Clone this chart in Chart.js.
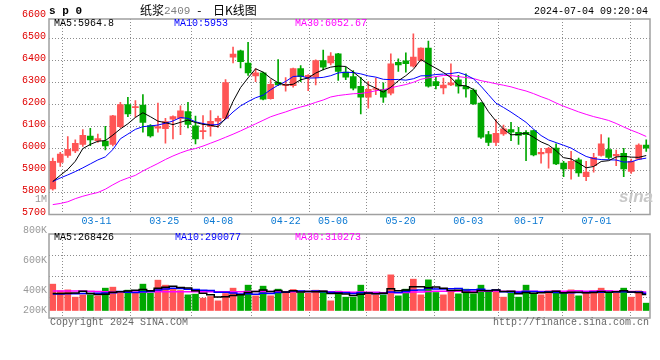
<!DOCTYPE html>
<html>
<head>
<meta charset="utf-8">
<script src="https://cdn.jsdelivr.net/npm/chart.js@4.4.1/dist/chart.umd.min.js"></script>
<style>
    body { margin: 0; background: #fff; }
    #wrap { position: relative; width: 660px; height: 360px; overflow: hidden; font-family: "Liberation Mono", monospace; font-size: 10px; }
    #wrap canvas { position: absolute; left: 0; }
    .t { position: absolute; white-space: nowrap; line-height: 12px; }
    .cjk { font-family: "Noto Sans CJK SC", sans-serif; font-size: 12px; }
    .vlab { position: absolute; left: 0; width: 47px; text-align: right; color: #999; line-height: 12px; }
</style>
</head>
<body>
<div id="wrap">
    <canvas id="kChart" width="660" height="232" style="top:0"></canvas>
    <canvas id="volChart" width="660" height="100" style="top:232px"></canvas>

    <div class="t" style="left:49px;top:5px;font-weight:bold;font-size:11px">s p 0</div>
    <div class="t cjk" style="left:140px;top:4px">纸浆</div>
    <div class="t" style="left:164px;top:5px;font-size:11px;color:#808080">2409</div>
    <div class="t" style="left:196px;top:5px;font-size:11px">-</div>
    <div class="t cjk" style="left:213px;top:4px">日K线图</div>
    <div class="t" style="left:534px;top:6px">2024-07-04 09:20:04</div>

    <div class="t" style="left:54px;top:18px;color:#000">MA5:5964.8</div>
    <div class="t" style="left:174px;top:18px;color:#0000ff">MA10:5953</div>
    <div class="t" style="left:295px;top:18px;color:#ff00ff">MA30:6052.67</div>
    <div class="vlab" style="top:194px">1M</div>
    <div class="t" style="left:619px;top:187px;font:italic bold 17px 'Liberation Sans',sans-serif;color:#c8c8c8">sina</div>

    <div class="t" style="left:54px;top:232px;color:#000">MA5:268426</div>
    <div class="t" style="left:175px;top:232px;color:#0000ff">MA10:290077</div>
    <div class="t" style="left:295px;top:232px;color:#ff00ff">MA30:310273</div>
    <div class="vlab" style="top:225px">800K</div>
    <div class="vlab" style="top:255px">600K</div>
    <div class="vlab" style="top:285px">400K</div>
    <div class="vlab" style="top:305px">200K</div>

    <div class="t" style="left:50px;top:317px;color:#666">Copyright 2024 SINA.COM</div>
    <div class="t" style="left:493px;top:317px;color:#666">http://finance.sina.com.cn</div>
</div>

<script>
// ==================== DATA ====================
const dates = ['03-07','03-08','03-11','03-12','03-13','03-14','03-15','03-18','03-19','03-20',
    '03-21','03-22','03-25','03-26','03-27','03-28','03-29','04-01','04-02','04-03',
    '04-08','04-09','04-10','04-11','04-12','04-15','04-16','04-17','04-18','04-19',
    '04-22','04-23','04-24','04-25','04-26','04-29','04-30','05-06','05-07','05-08',
    '05-09','05-10','05-13','05-14','05-15','05-16','05-17','05-20','05-21','05-22',
    '05-23','05-24','05-27','05-28','05-29','05-30','05-31','06-03','06-04','06-05',
    '06-06','06-07','06-11','06-12','06-13','06-14','06-17','06-18','06-19','06-20',
    '06-21','06-24','06-25','06-26','06-27','06-28','07-01','07-02','07-03','07-04'];

const openP = [5816,5937,5968,5989,6018,6056,6036,6034,6019,6099,
    6200,6186,6197,6104,6092,6090,6133,6137,6168,6103,
    6077,6099,6124,6137,6415,6444,6388,6330,6344,6227,
    6301,6286,6286,6363,6324,6324,6400,6389,6430,6347,
    6327,6282,6233,6268,6268,6251,6392,6398,6374,6400,
    6456,6304,6275,6289,6312,6283,6266,6206,6063,6028,
    6066,6086,6074,6074,6081,5975,5980,6002,5934,5907,
    5949,5872,5922,5968,5995,5966,5978,5896,5952,6016];
const closeP = [5942,5975,5996,6024,6060,6039,6045,6012,6148,6200,
    6157,6189,6119,6057,6100,6122,6145,6171,6109,6043,
    6081,6124,6137,6300,6429,6395,6344,6344,6224,6292,
    6289,6292,6363,6326,6333,6400,6370,6420,6350,6324,
    6274,6233,6269,6272,6233,6385,6380,6385,6415,6456,
    6283,6285,6288,6298,6283,6271,6203,6051,6028,6069,
    6089,6074,6059,6063,5971,5983,6001,5930,5907,5942,
    5889,5893,5960,6021,5960,5974,5907,5942,6016,6001];
const highP = [5957,5983,6054,6039,6086,6092,6066,6101,6151,6210,
    6233,6218,6245,6109,6206,6137,6148,6194,6210,6147,
    6150,6172,6147,6313,6461,6447,6483,6363,6347,6313,
    6404,6322,6366,6377,6336,6403,6447,6436,6433,6370,
    6354,6324,6304,6320,6298,6430,6407,6435,6521,6458,
    6488,6324,6320,6385,6332,6339,6271,6210,6078,6131,
    6107,6119,6096,6081,6084,6001,6005,6021,5942,5987,
    5957,5942,5978,6063,6048,5993,6001,5952,6021,6039];
const lowP = [5811,5919,5960,5981,6010,6013,6028,5993,6012,6093,
    6145,6142,6074,6051,6074,6024,6043,6063,6093,6021,
    6043,6056,6096,6134,6389,6366,6332,6304,6221,6224,
    6286,6260,6279,6304,6263,6289,6357,6380,6309,6313,
    6266,6157,6183,6245,6210,6244,6350,6347,6370,6397,
    6279,6271,6248,6286,6251,6233,6200,6046,6013,6013,
    6059,6036,6018,5945,5966,5933,5911,5927,5872,5861,
    5873,5854,5892,5965,5952,5922,5872,5887,5949,5987];

const ma5 = [5850,5878,5905,5942,5999.4,6018.8,6032.8,6036,6060.8,6088.8,
    6112.4,6141.2,6162.6,6144.4,6124.4,6117.4,6108.6,6119,6129.4,6118,
    6109.8,6105.6,6098.8,6137,6214.2,6277,6321,6362.4,6347.2,6319.8,
    6298.6,6288.2,6292,6312.4,6320.6,6342.8,6358.4,6369.8,6374.6,6372.8,
    6347.6,6320.2,6290,6274.4,6256.2,6278.4,6307.8,6331,6359.6,6404.2,
    6383.8,6364.8,6345.4,6322,6287.4,6285,6268.6,6221.2,6167.2,6124.4,
    6088,6062.2,6063.8,6070.8,6051.2,6030,6015.4,5989.6,5958.4,5952.6,
    5933.8,5912.2,5918.2,5941,5944.6,5961.6,5964.4,5960.8,5959.8,5968];
const ma10 = [5850,5866,5880,5895,5912,5930,5948,5962,5995,6044.1,
    6065.6,6087,6099.3,6102.6,6106.6,6114.9,6124.9,6140.8,6136.9,6121.2,
    6113.6,6107.1,6108.9,6133.2,6166.1,6193.4,6213.3,6230.6,6242.1,6267,
    6287.8,6304.6,6327.2,6329.8,6320.2,6320.7,6323.3,6330.9,6343.5,6346.7,
    6345.2,6339.3,6329.9,6324.5,6314.5,6313,6314,6310.5,6317,6330.2,
    6331.1,6336.3,6338.2,6340.8,6345.8,6334.4,6316.7,6283.3,6244.6,6205.9,
    6186.5,6165.4,6142.5,6119,6087.8,6059,6038.8,6026.7,6014.6,6001.9,
    5981.9,5963.8,5953.9,5949.7,5948.6,5947.7,5938.3,5939.5,5950.4,5956.3];
const ma30 = [5745,5750,5758,5772,5783,5792,5800,5815,5835,5853,
    5866,5878,5898,5915,5932,5950,5966,5980,5992,6000,
    6011,6024,6037,6051,6065,6080,6096,6112,6128,6144.1,
    6155.7,6166.2,6178.5,6188.5,6197.6,6209.7,6220.5,6234.1,6240.8,6245,
    6248.9,6250.3,6255.3,6262.5,6266.9,6275.7,6283.5,6290.7,6300.9,6314.6,
    6321.4,6326.7,6331.8,6331.7,6326.8,6322.7,6318,6308.2,6301.7,6294.3,
    6287.6,6280.3,6270.2,6261.4,6249.4,6235.5,6223.2,6206.8,6192.1,6179.3,
    6166.5,6155.2,6144.9,6136.5,6127.4,6113.7,6097.8,6083,6069.7,6054.6];

// volume in thousands of lots
const volK = [448,334,351,227,266,266,249,380,397,295,
    346,295,448,295,516,431,363,340,266,278,
    210,238,164,289,380,266,431,249,414,250,
    363,295,357,300,295,346,334,164,329,227,
    227,431,283,266,266,606,249,363,533,266,
    521,306,266,340,283,363,283,431,323,351,
    227,295,227,431,295,266,334,312,295,351,
    249,295,334,380,295,295,380,227,334,125];
const volMa5 = [290,290,295,298,325.2,288.8,271.8,277.6,311.6,317.4,
    333.4,342.6,356.2,335.8,380,397,410.6,389,383.2,335.6,
    291.4,266.4,231.2,235.8,256.2,267.4,306,323,348,322,
    341.4,314.2,335.8,313,322,318.6,326.4,287.8,293.6,280,
    256.2,275.6,299.4,286.8,294.6,370.4,334,350,403.4,403.4,
    386.4,397.8,378.4,339.8,343.2,311.6,307,340,336.6,350.2,
    323,325.4,284.6,306.2,295,302.8,310.6,327.6,300.4,311.6,
    308.2,300.4,304.8,321.8,310.6,319.8,336.8,315.4,306.2,272.2];
const volMa10 = [280,282,284,286,288,290,292,296,300,321.3,
    311.1,307.2,316.9,323.7,348.7,365.2,376.6,372.6,359.5,357.8,
    344.2,338.5,310.1,309.5,295.9,279.4,286.2,277.1,291.9,289.1,
    304.4,310.1,329.4,330.5,322,330,320.3,311.8,303.3,301,
    287.4,301,293.6,290.2,287.3,313.3,304.8,324.7,345.1,349,
    378.4,365.9,364.2,371.6,373.3,349,352.4,359.2,338.2,346.7,
    317.3,316.2,312.3,321.4,322.6,312.9,318,306.1,303.3,303.3,
    305.5,305.5,316.2,311.1,311.1,314,318.6,310.1,314,291.4];
const volMa30 = [330,330,330,330,330,326,322,318,316,315,
    315,315,316,317,318,319,320,320,320,320,
    320,320,320,320,320,320,321,322,322,322.7,
    319.9,318.6,318.8,321.2,322.2,324.9,327.7,320.5,318.2,316,
    312,316.5,311,310.1,301.7,307.6,303.8,304.5,313.4,313,
    323.4,325.7,329.1,330.8,327.5,330.8,325.8,331.9,328.9,332.2,
    327.7,327.7,323.4,327.7,327.7,325.1,325.1,330,328.9,333,
    333.7,329.2,330.9,334.7,335.7,325.3,329.7,325.1,318.5,313.8];

const priceTicks = [5700,5800,5900,6000,6100,6200,6300,6400,6500,6600];
const dateTicks = ['03-11','03-25','04-08','04-22','05-06','05-20','06-03','06-17','07-01'];

// ==================== STYLE ====================
const MONO = '"Liberation Mono", monospace';
const UP = '#ff5555', DOWN = '#00a800';
const GRID = '#8c8c8c', NONE = 'rgba(0,0,0,0)';
const candleColors = closeP.map((c, i) => c >= openP[i] ? UP : DOWN);
const dateTickIdx = dateTicks.map(d => dates.indexOf(d));

Chart.defaults.font.family = MONO;
Chart.defaults.font.size = 10;

// grey frame round the plot area
const framePlugin = {
    id: 'frame',
    afterDraw(chart) {
        const { ctx, chartArea: a } = chart;
        ctx.save();
        ctx.strokeStyle = '#a0a0a0';
        ctx.lineWidth = 1.5;
        ctx.strokeRect(a.left, a.top, a.right - a.left, a.bottom - a.top);
        ctx.restore();
    }
};

const fixWidth = w => s => { s.width = w; };
const fixHeight = h => s => { s.height = h; };

// sina spaces its date grid a little wider than the candles (7.6px vs 7.5px),
// so the date grid lives on its own linear axis over the candle index
function dateGridAxis(showLabels, height) {
    return {
        type: 'linear', position: 'bottom', min: -0.105, max: 78.97,
        afterBuildTicks: a => { a.ticks = dateTickIdx.map(v => ({ value: v })); },
        afterFit: fixHeight(height),
        grid: { color: GRID, drawTicks: false },
        border: { display: false, dash: [1, 2] },
        ticks: {
            display: showLabels, autoSkip: false, maxRotation: 0, padding: 1,
            color: '#0a78d2', font: { family: MONO, size: 10 },
            callback: (v, i) => dateTicks[i]
        }
    };
}

function maLine(data, color, width, stepped) {
    return { type: 'line', data, borderColor: color, borderWidth: width, pointRadius: 0,
             tension: 0, stepped: stepped || false, xAxisID: 'x', yAxisID: 'y', order: 0 };
}

// ==================== K-LINE CHART ====================
new Chart(document.getElementById('kChart'), {
    type: 'bar',
    data: {
        labels: dates,
        datasets: [
            maLine(ma5, '#000000', 1),
            maLine(ma10, '#0000ff', 1),
            maLine(ma30, '#ff00ff', 1),
            {
                data: openP.map((o, i) => [o, closeP[i]]),
                backgroundColor: candleColors, barThickness: 6, minBarLength: 1,
                grouped: false, xAxisID: 'x', yAxisID: 'y', order: 1
            },
            {
                data: lowP.map((l, i) => [l, highP[i]]),
                backgroundColor: candleColors, barThickness: 1,
                grouped: false, xAxisID: 'x', yAxisID: 'y', order: 2
            }
        ]
    },
    options: {
        responsive: false,
        animation: false,
        events: [],
        layout: { padding: { top: 19, right: 10, left: 0, bottom: 0 } },
        plugins: { legend: { display: false }, tooltip: { enabled: false } },
        scales: {
            x: { type: 'category', display: false, offset: true },
            xg: dateGridAxis(true, 17.5),
            y: {
                type: 'linear', position: 'left', min: 5700, max: 6588.6,
                afterBuildTicks: a => { a.ticks = priceTicks.map(v => ({ value: v })); },
                afterFit: fixWidth(49),
                grid: {
                    drawTicks: false,
                    color: c => (c.tick && (c.tick.value >= 6600 || c.tick.value <= 5700)) ? NONE : GRID
                },
                border: { display: false, dash: [1, 2] },
                ticks: {
                    autoSkip: false, padding: 3, labelOffset: -2,
                    color: '#e00000', font: { family: MONO, size: 10 },
                    callback: v => String(v)
                }
            }
        }
    },
    plugins: [framePlugin]
});

// ==================== VOLUME CHART ====================
new Chart(document.getElementById('volChart'), {
    type: 'bar',
    data: {
        labels: dates,
        datasets: [
            maLine(volMa5, '#000000', 1.5, 'middle'),
            maLine(volMa10, '#0000ff', 1.5, 'middle'),
            maLine(volMa30, '#ff00ff', 1.5, 'middle'),
            {
                data: volK, backgroundColor: candleColors, barThickness: 6,
                xAxisID: 'x', yAxisID: 'y', order: 1
            }
        ]
    },
    options: {
        responsive: false,
        animation: false,
        events: [],
        layout: { padding: { top: 2, right: 10, left: 0, bottom: 14 } },
        plugins: { legend: { display: false }, tooltip: { enabled: false } },
        scales: {
            x: { type: 'category', display: false, offset: true },
            xg: dateGridAxis(false, 0),
            y: { type: 'linear', display: false, min: -127.5, max: 1300.5 },
            yg: {
                type: 'linear', position: 'left', min: 0, max: 4,
                ticks: { display: false, stepSize: 1 },
                afterFit: fixWidth(49),
                grid: {
                    drawTicks: false,
                    color: c => (c.tick && c.tick.value > 0 && c.tick.value < 4) ? GRID : NONE
                },
                border: { display: false, dash: [1, 2] }
            }
        }
    },
    plugins: [framePlugin]
});
</script>
</body>
</html>
